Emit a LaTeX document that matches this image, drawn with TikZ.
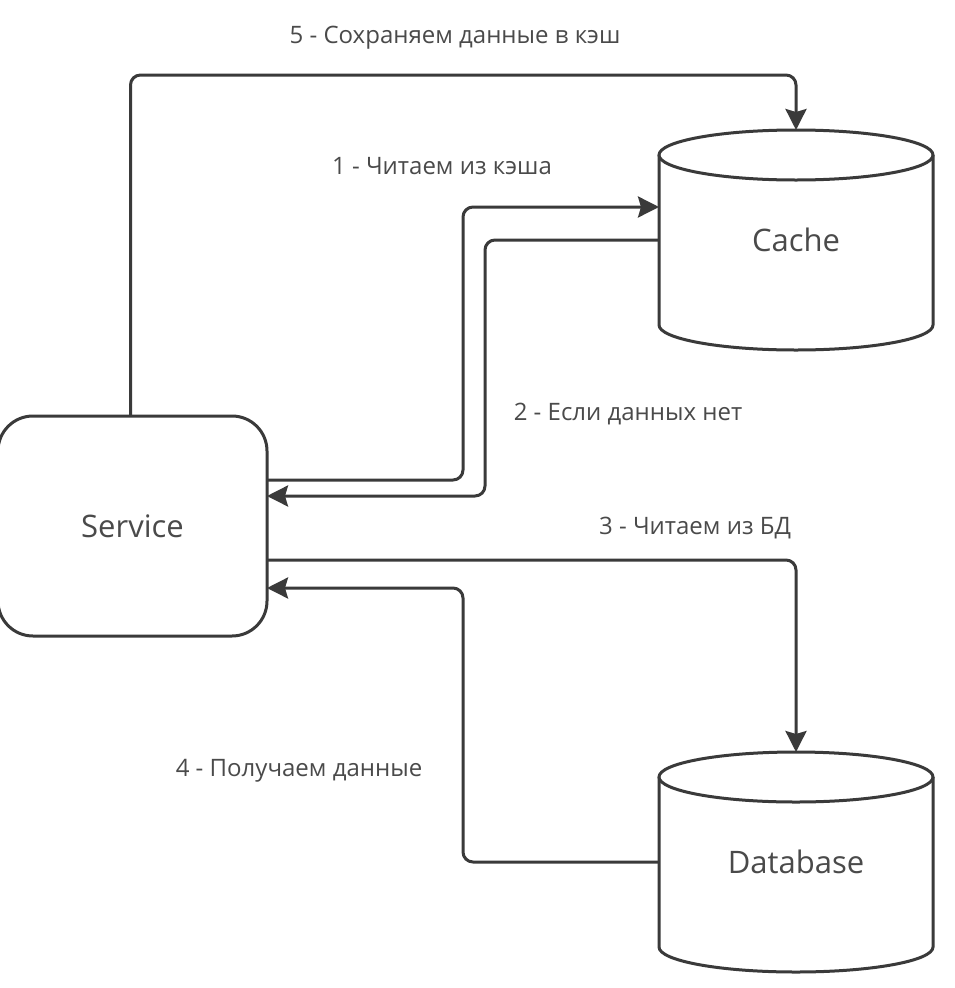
\documentclass[tikz,border=0pt]{standalone}
\usepackage{fontspec}
\setmainfont{Open Sans}
\usetikzlibrary{arrows.meta}
\definecolor{linec}{HTML}{3A3A3A}
\definecolor{textc}{HTML}{4A4A4A}
\tikzset{
  conn/.style={draw=linec, line width=3pt, rounded corners=10pt},
  arr/.style={conn, -{Stealth[length=21pt,width=21pt,inset=3pt]}},
  cylbody/.style={draw=linec, line width=3pt, fill=white},
  lbl/.style={text=textc, font=\fontsize{24}{28}\selectfont, inner sep=0pt},
  boxtxt/.style={text=textc, font=\fontsize{31}{37}\selectfont},
  anchorbox/.style={rectangle, inner sep=0pt, outer sep=0pt, minimum width=274pt, minimum height=220pt}
}
\begin{document}
\begin{tikzpicture}[x=1pt,y=-1pt]
\useasboundingbox[fill=white] (0,0) rectangle (954,988);

% Service
\node[draw=linec, line width=3pt, rounded corners=35pt, minimum width=269pt, minimum height=220pt, inner sep=0pt, outer sep=0pt, fill=white] (service) at (132.5,526) {};
\node[boxtxt] (servicetxt) at (service.center) {Service};

% Cache
\node[anchorbox] (cache) at (796,240) {};
\draw[cylbody] ([yshift=-25pt]cache.north west) -- ([yshift=25pt]cache.south west)
  arc[start angle=180, end angle=360, x radius=137pt, y radius=25pt]
  -- ([yshift=-25pt]cache.north east);
\draw[cylbody] ([yshift=-25pt]cache.north) ellipse[x radius=137pt, y radius=25pt];
\node[boxtxt] (cachetxt) at (cache.center) {Cache};

% Database
\node[anchorbox] (db) at (796,862) {};
\draw[cylbody] ([yshift=-25pt]db.north west) -- ([yshift=25pt]db.south west)
  arc[start angle=180, end angle=360, x radius=137pt, y radius=25pt]
  -- ([yshift=-25pt]db.north east);
\draw[cylbody] ([yshift=-25pt]db.north) ellipse[x radius=137pt, y radius=25pt];
\node[boxtxt] (dbtxt) at (db.center) {Database};

% corner helper
\coordinate (top5) at (0,75);

% 5 - save to cache
\draw[arr] ([xshift=-2pt]service.north) -- ([xshift=-2pt]service.north |- top5) -- (cache.north |- top5) -- (cache.north);

% 1 - read from cache
\draw[arr] ([yshift=46pt]service.east) -| ([xshift=-196pt,yshift=33pt]cache.west) -- ([yshift=33pt]cache.west);

% 2 - no data
\draw[arr] (cache.west) -| ([xshift=218pt,yshift=30pt]service.east) -- ([yshift=30pt]service.east);

% 3 - read from DB
\draw[arr] ([yshift=-34pt]service.east) -| (db.north);

% 4 - get data
\draw[arr] (db.west) -| ([xshift=196pt,yshift=-62pt]service.east) -- ([yshift=-62pt]service.east);

% labels
\node[lbl] (l5) at (455,38) {5 - Сохраняем данные в кэш};
\node[lbl] (l1) at (442,166) {1 - Читаем из кэша};
\node[lbl] (l2) at (628,414) {2 - Если данных нет};
\node[lbl] (l3) at (695,528) {3 - Читаем из БД};
\node[lbl] (l4) at (299,771) {4 - Получаем данные};
\end{tikzpicture}
\end{document}
